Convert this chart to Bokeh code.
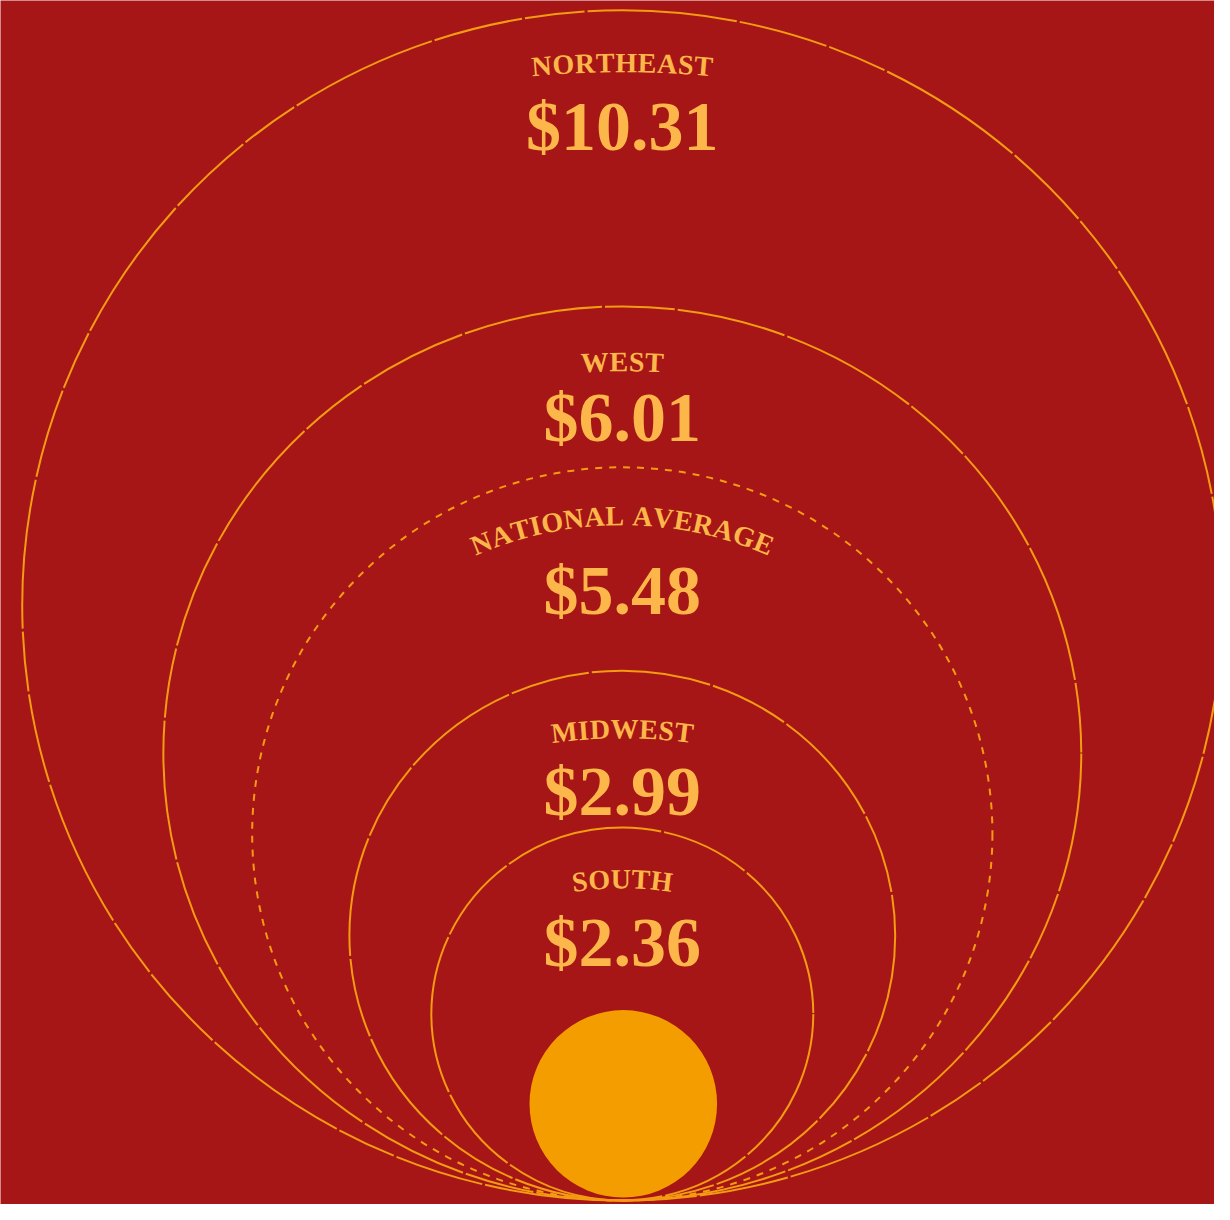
import math
from bokeh.plotting import figure
from bokeh.models import Range1d
from bokeh.core.properties import value
from bokeh.embed import file_html
from bokeh.resources import INLINE

# ---------------- DATA ----------------
regions = ["NORTHEAST", "WEST", "NATIONAL AVERAGE", "MIDWEST", "SOUTH"]
prices = [10.31, 6.01, 5.48, 2.99, 2.36]
price_labels = ["$%.2f" % v for v in prices]

# ---------------- STYLE / LAYOUT ----------------
BG = "#A71616"
RING = "#F39B12"
TXT = "#FDB649"
COIN = "#F49D00"
FONT = "Liberation Serif"

W_PX, H_PX = 1214, 1204
X0, X1 = 0, 1230          # reference pixel window (x)
Y0, Y1 = 0, 1220          # reference pixel window (y, downward)
CX = 630                  # common centre line
BOTTOM = 1216             # rings are tangent here (reference px, downward)

ring_rx = [608, 465, 375, 276.5, 193.5]
ring_ry = [603, 453, 371.5, 268.5, 189]
ring_dash = ["150 3 90 3 60 3", "140 3 70 3 110 3", "7 7", "120 3 80 3", "160 3 90 3"]
label_dy = [53, 56, 49, 59, 52]       # label baseline below ring top
value_dy = [118, 113, 125, 123, 117]  # value baseline below ring top
label_arc_r = [1000, 800, 380, 520, 330]
LABEL_FS = 28
VALUE_FS = 70
COIN_R = 95
COIN_CY = 1118

# Times-Bold advance widths (1/1000 em)
CW = {"A": 722, "B": 667, "C": 722, "D": 722, "E": 667, "F": 611, "G": 778,
      "H": 778, "I": 389, "J": 500, "K": 778, "L": 667, "M": 944, "N": 722,
      "O": 778, "P": 611, "Q": 778, "R": 722, "S": 556, "T": 667, "U": 722,
      "V": 722, "W": 1000, "X": 722, "Y": 722, "Z": 667, " ": 250}
TRACK = 1.0


def yup(Y):
    return 1220 - Y


p = figure(width=W_PX, height=H_PX, output_backend="svg", toolbar_location=None,
           x_range=Range1d(X0, X1), y_range=Range1d(yup(Y1), yup(Y0)),
           background_fill_color=BG, border_fill_color=BG,
           min_border=0, outline_line_color=None)
p.min_border_left = p.min_border_right = p.min_border_top = p.min_border_bottom = 0
p.axis.visible = False
p.grid.visible = False

# rings
for rx, ry, dash in zip(ring_rx, ring_ry, ring_dash):
    p.ellipse(x=[CX], y=[yup(BOTTOM - ry)], width=[2 * rx], height=[2 * ry],
              fill_color=None, line_color=RING, line_width=2, line_dash=dash)

# coin
p.circle(x=[CX + 1], y=[yup(COIN_CY)], radius=COIN_R, fill_color=COIN, line_color=None)

# labels (curved) and values
lx, ly, lt, la = [], [], [], []
vx, vy, vt = [], [], []
for name, lab, rx, ry, ldy, vdy, R in zip(regions, price_labels, ring_rx, ring_ry,
                                           label_dy, value_dy, label_arc_r):
    top = BOTTOM - 2 * ry
    base_y = yup(top + ldy)
    widths = [CW.get(c, 600) * LABEL_FS / 1000.0 for c in name]
    total = sum(widths) + TRACK * (len(name) - 1)
    s = -total / 2.0
    yc = base_y - R
    for c, w in zip(name, widths):
        mid = s + w / 2.0
        phi = mid / R
        if c != " ":
            lx.append(CX + R * math.sin(phi))
            ly.append(yc + R * math.cos(phi))
            lt.append(c)
            la.append(-phi)
        s += w + TRACK
    vx.append(CX)
    vy.append(yup(top + vdy))
    vt.append(lab)

p.text(x=lx, y=ly, text=lt, angle=la, text_align="center", text_baseline="alphabetic",
       text_font=value(FONT), text_font_style="bold",
       text_font_size=value("%dpx" % LABEL_FS), text_color=TXT)
p.text(x=vx, y=vy, text=vt, text_align="center", text_baseline="alphabetic",
       text_font=value(FONT), text_font_style="bold",
       text_font_size=value("%dpx" % VALUE_FS), text_color=TXT)

open("out.html", "w").write(file_html(p, INLINE))
